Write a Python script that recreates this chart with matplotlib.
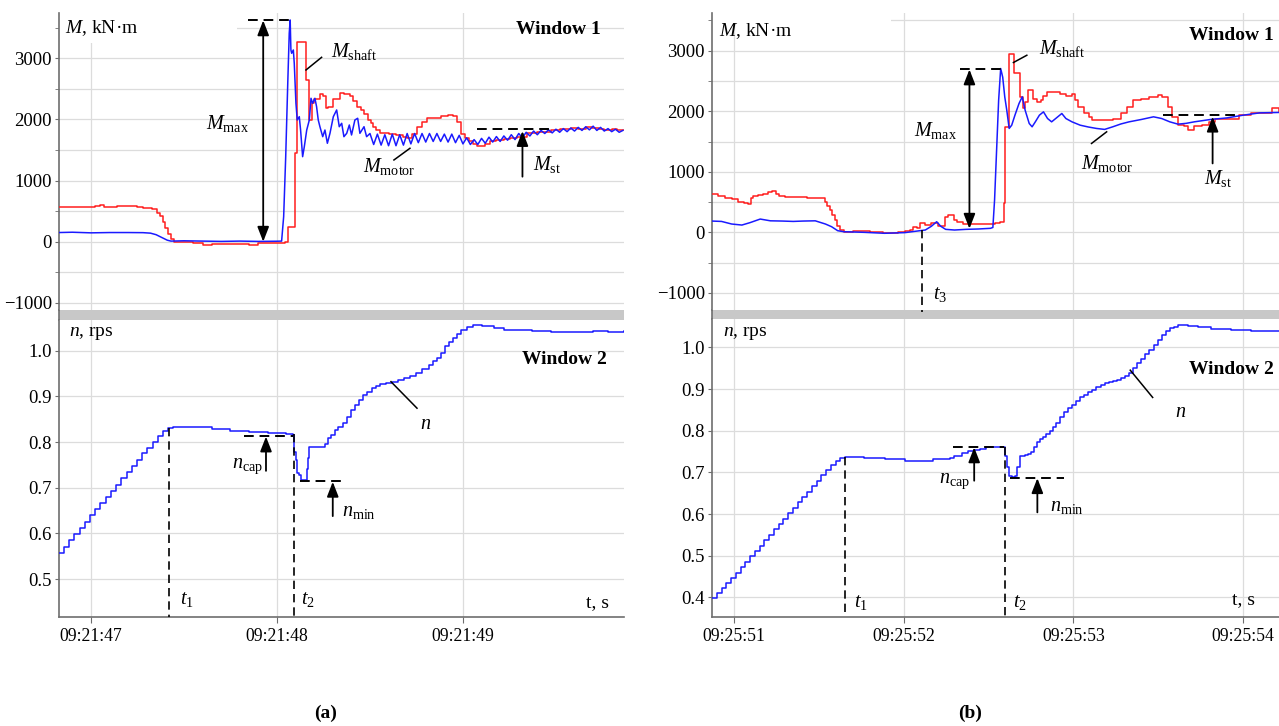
import matplotlib
matplotlib.use("Agg")
import matplotlib.pyplot as plt
from matplotlib.patches import Rectangle

plt.rcParams['font.family'] = ['Liberation Serif', 'DejaVu Serif']
plt.rcParams['mathtext.fontset'] = 'custom'
plt.rcParams['mathtext.rm'] = 'Liberation Serif'
plt.rcParams['mathtext.it'] = 'Liberation Serif:italic'
plt.rcParams['mathtext.bf'] = 'Liberation Serif:bold'

# ---- panel (a): seconds after 09:21:47 ----
a_ticks = [0, 1, 2]
a_ticklabels = ['09:21:47', '09:21:48', '09:21:49']

a_t_shaft = [-0.172, -0.05, 0.02, 0.05, 0.07, 0.12, 0.14, 0.20, 0.25, 0.28,
             0.33, 0.355, 0.37, 0.385, 0.40, 0.415, 0.43, 0.445, 0.55, 0.60,
             0.65, 0.70, 0.78, 0.85, 0.90, 0.97, 1.045, 1.060, 1.098, 1.108,
             1.154, 1.174, 1.186, 1.20, 1.231, 1.250, 1.266, 1.276, 1.30, 1.339,
             1.36, 1.392, 1.41, 1.428, 1.45, 1.47, 1.491, 1.505, 1.518, 1.535,
             1.554, 1.60, 1.64, 1.679, 1.70, 1.727, 1.751, 1.78, 1.805, 1.84,
             1.88, 1.92, 1.946, 1.968, 1.99, 2.01, 2.035, 2.056, 2.075, 2.10,
             2.12, 2.144, 2.18, 2.22, 2.254, 2.29, 2.342, 2.40, 2.473, 2.52,
             2.583, 2.62, 2.66, 2.693, 2.73, 2.758, 2.80, 2.83, 2.866]
a_m_shaft = [570, 565, 580, 600, 575, 560, 585, 580, 570, 550,
             540, 470, 420, 330, 220, 130, 40, 0, -20, -50,
             -30, -45, -30, -50, -25, -15, 0, 245, 1450, 3274,
             2647, 1990, 2270, 2330, 2420, 2380, 2190, 2200, 2330, 2440,
             2420, 2390, 2300, 2210, 2150, 2090, 1990, 1940, 1880, 1830,
             1780, 1760, 1740, 1720, 1700, 1760, 1880, 1950, 2020, 2020,
             2050, 2070, 2050, 1960, 1760, 1700, 1650, 1600, 1560, 1560,
             1600, 1640, 1660, 1680, 1700, 1720, 1780, 1800, 1830, 1840,
             1860, 1850, 1870, 1865, 1850, 1830, 1845, 1820, 1835]

a_t_motor = [-0.172, -0.10, 0.0, 0.10, 0.20, 0.28, 0.32, 0.35, 0.38, 0.41,
             0.43, 0.50, 0.60, 0.70, 0.80, 0.90, 1.00, 1.025, 1.036, 1.047,
             1.058, 1.066, 1.071, 1.075, 1.079, 1.088, 1.093, 1.102, 1.109, 1.120,
             1.127, 1.138, 1.147, 1.160, 1.174, 1.183, 1.192, 1.204, 1.213, 1.222,
             1.231, 1.246, 1.258, 1.271, 1.285, 1.303, 1.321, 1.335, 1.348, 1.360,
             1.375, 1.389, 1.401, 1.419, 1.434, 1.446, 1.468, 1.482,
             1.50, 1.52, 1.54, 1.56, 1.58, 1.60, 1.62, 1.64, 1.66, 1.68,
             1.70, 1.72, 1.74, 1.76, 1.78, 1.80, 1.82, 1.84, 1.86, 1.88,
             1.90, 1.92, 1.94, 1.96, 1.98, 2.00, 2.02, 2.04, 2.06, 2.08,
             2.10, 2.12, 2.14, 2.16, 2.18, 2.20, 2.22, 2.24, 2.26, 2.28,
             2.30, 2.32, 2.34, 2.36, 2.38, 2.40, 2.42, 2.44, 2.46, 2.48,
             2.50, 2.52, 2.54, 2.56, 2.58, 2.60, 2.62, 2.64, 2.66, 2.68,
             2.70, 2.72, 2.74, 2.76, 2.78, 2.80, 2.82, 2.84, 2.86]
a_m_motor = [150, 155, 145, 150, 150, 148, 140, 115, 70, 25,
             10, 15, 10, 5, 10, 5, 8, 10, 410, 1390,
             2590, 3410, 3627, 3136, 3082, 3136, 2919, 2264, 1991, 2045,
             1827, 1391, 1554, 1827, 1991, 2346, 2264, 2346, 2209, 1991,
             1881, 1718, 1827, 1610, 1773, 2045, 2155, 1881, 1937, 1718,
             1773, 1909, 1746, 1991, 2019, 1773, 1881, 1718,
             1770, 1590, 1760, 1580, 1750, 1570, 1760, 1570, 1750, 1580,
             1770, 1600, 1770, 1620, 1770, 1630, 1770, 1640, 1770, 1640,
             1760, 1630, 1760, 1620, 1740, 1600, 1700, 1590, 1670, 1590,
             1690, 1610, 1710, 1630, 1720, 1640, 1730, 1660, 1750, 1670,
             1770, 1700, 1790, 1730, 1810, 1750, 1820, 1770, 1830, 1780,
             1840, 1790, 1850, 1800, 1860, 1810, 1870, 1820, 1880, 1830,
             1890, 1820, 1870, 1810, 1850, 1800, 1840, 1790, 1820]

a_t_n = [-0.172, -0.145, -0.117, -0.089, -0.061, -0.033, -0.005, 0.023, 0.051, 0.079,
         0.107, 0.135, 0.163, 0.191, 0.219, 0.247, 0.275, 0.303, 0.331, 0.359,
         0.387, 0.415, 0.44, 0.55, 0.65, 0.75, 0.85, 0.95, 1.05, 1.086,
         1.091, 1.100, 1.108, 1.12, 1.130, 1.152, 1.161, 1.168, 1.174, 1.21,
         1.244, 1.26, 1.277, 1.29, 1.31, 1.33, 1.354, 1.375, 1.398, 1.42,
         1.442, 1.465, 1.486, 1.51, 1.53, 1.556, 1.584, 1.617, 1.65, 1.683,
         1.716, 1.749, 1.78, 1.815, 1.84, 1.859, 1.88, 1.903, 1.925, 1.947,
         1.97, 1.99, 2.02, 2.056, 2.10, 2.166, 2.22, 2.276, 2.37, 2.473,
         2.6, 2.7, 2.78, 2.866]
a_n = [0.558, 0.571, 0.585, 0.599, 0.612, 0.626, 0.640, 0.653, 0.667, 0.680,
       0.694, 0.707, 0.721, 0.734, 0.748, 0.761, 0.775, 0.788, 0.801, 0.813,
       0.824, 0.830, 0.833, 0.832, 0.829, 0.825, 0.821, 0.819, 0.817, 0.815,
       0.779, 0.760, 0.732, 0.728, 0.716, 0.718, 0.740, 0.765, 0.789, 0.790,
       0.789, 0.795, 0.808, 0.815, 0.826, 0.833, 0.841, 0.855, 0.870, 0.882,
       0.892, 0.902, 0.910, 0.918, 0.923, 0.927, 0.929, 0.932, 0.936, 0.940,
       0.945, 0.951, 0.960, 0.969, 0.977, 0.983, 0.995, 1.009, 1.018, 1.027,
       1.037, 1.045, 1.052, 1.055, 1.054, 1.050, 1.046, 1.044, 1.043, 1.041,
       1.041, 1.042, 1.041, 1.042]

# ---- panel (b): seconds after 09:25:51 ----
b_ticks = [0, 1, 2, 3]
b_ticklabels = ['09:25:51', '09:25:52', '09:25:53', '09:25:54']

b_t_shaft = [-0.128, -0.09, -0.05, -0.012, 0.024, 0.06, 0.084, 0.100, 0.115, 0.14,
             0.17, 0.20, 0.228, 0.25, 0.264, 0.30, 0.336, 0.37, 0.408, 0.43,
             0.456, 0.49, 0.516, 0.54, 0.552, 0.564, 0.58, 0.595, 0.61, 0.624,
             0.648, 0.70, 0.744, 0.80, 0.84, 0.88, 0.936, 0.97, 1.008, 1.04,
             1.058, 1.08, 1.097, 1.128, 1.164, 1.2, 1.244, 1.264, 1.296, 1.313,
             1.352, 1.44, 1.49, 1.539, 1.568, 1.592, 1.598, 1.621, 1.653, 1.686,
             1.702, 1.716, 1.735, 1.75, 1.764, 1.784, 1.81, 1.823, 1.843, 1.872,
             1.92, 1.956, 1.992, 2.011, 2.028, 2.064, 2.09, 2.112, 2.184, 2.232,
             2.28, 2.316, 2.352, 2.40, 2.448, 2.496, 2.52, 2.556, 2.58, 2.616,
             2.652, 2.676, 2.712, 2.76, 2.796, 2.832, 2.904, 2.976, 3.048, 3.12,
             3.168, 3.211]
b_m_shaft = [627, 600, 575, 555, 505, 480, 470, 560, 600, 620,
             640, 660, 676, 640, 600, 585, 590, 580, 585, 575,
             570, 565, 560, 505, 440, 368, 280, 203, 110, 38,
             10, 20, 15, 0, 5, -10, -15, 0, 20, 40,
             92, 66, 148, 120, 148, 104, 257, 285, 200, 165,
             132, 132, 132, 158, 165, 478, 1742, 2953, 2634, 2237,
             2046, 2160, 2348, 2350, 2210, 2155, 2180, 2260, 2320, 2310,
             2290, 2260, 2290, 2183, 2073, 1963, 1900, 1853, 1853, 1870,
             1963, 2073, 2183, 2210, 2240, 2265, 2230, 2073, 1908, 1770,
             1760, 1688, 1753, 1770, 1825, 1870, 1875, 1935, 1963, 1973,
             2046, 1990]

b_t_motor = [-0.128, -0.072, -0.012, 0.048, 0.096, 0.156, 0.216, 0.288, 0.35, 0.408,
             0.48, 0.54, 0.576, 0.612, 0.648, 0.768, 0.888, 1.008, 1.128, 1.164,
             1.195, 1.219, 1.248, 1.30, 1.368, 1.44, 1.512, 1.526, 1.536, 1.548,
             1.560, 1.572, 1.584, 1.596, 1.608, 1.622, 1.637, 1.656, 1.680, 1.699,
             1.716, 1.740, 1.757, 1.776, 1.800, 1.824, 1.848, 1.872, 1.896, 1.932,
             1.956, 1.992, 2.04, 2.088, 2.136, 2.184, 2.232, 2.28, 2.328, 2.40,
             2.472, 2.52, 2.568, 2.616, 2.664, 2.712, 2.808, 2.904, 3.0, 3.096,
             3.211]
b_m_motor = [186, 180, 137, 120, 160, 219, 190, 186, 180, 186,
             190, 137, 93, 27, 10, 0, -16, -5, 38, 100,
             175, 100, 49, 38, 49, 55, 66, 80, 533, 1358,
             2183, 2706, 2562, 2238, 2016, 1716, 1770, 1935, 2128, 2238,
             2018, 1798, 1743, 1825, 1935, 1990, 1880, 1825, 1880, 1963,
             1880, 1825, 1770, 1740, 1716, 1700, 1743, 1790, 1825, 1864,
             1908, 1880, 1825, 1787, 1800, 1825, 1864, 1890, 1935, 1973,
             1980]

b_t_n = [-0.128, -0.100, -0.072, -0.044, -0.016, 0.012, 0.040, 0.068, 0.096, 0.124,
         0.152, 0.180, 0.208, 0.236, 0.264, 0.292, 0.320, 0.348, 0.376, 0.404,
         0.432, 0.460, 0.488, 0.516, 0.544, 0.572, 0.600, 0.628, 0.653,
         0.70, 0.768, 0.888, 1.008, 1.08, 1.13, 1.176, 1.22, 1.272, 1.30,
         1.345, 1.38, 1.416, 1.45, 1.488, 1.53, 1.560, 1.591, 1.596, 1.608,
         1.620, 1.637, 1.656, 1.668, 1.685, 1.716, 1.735, 1.752, 1.77, 1.788,
         1.805, 1.824, 1.84, 1.86, 1.878, 1.896, 1.92, 1.944, 1.968, 1.992,
         2.016, 2.04, 2.064, 2.088, 2.112, 2.136, 2.16, 2.184, 2.208, 2.232,
         2.256, 2.28, 2.304, 2.328, 2.352, 2.376, 2.40, 2.424, 2.448, 2.472,
         2.496, 2.52, 2.544, 2.568, 2.592, 2.616, 2.646, 2.676, 2.736, 2.808,
         2.928, 3.048, 3.13, 3.211]
b_n = [0.398, 0.410, 0.422, 0.434, 0.446, 0.459, 0.472, 0.485, 0.498, 0.511,
       0.524, 0.537, 0.550, 0.563, 0.576, 0.589, 0.602, 0.615, 0.628, 0.641,
       0.654, 0.667, 0.680, 0.693, 0.706, 0.718, 0.728, 0.735, 0.738,
       0.737, 0.735, 0.731, 0.728, 0.727, 0.728, 0.731, 0.733, 0.735, 0.740,
       0.747, 0.751, 0.754, 0.757, 0.760, 0.761, 0.762, 0.762, 0.740, 0.713,
       0.692, 0.690, 0.692, 0.713, 0.739, 0.742, 0.745, 0.750, 0.762, 0.773,
       0.779, 0.785, 0.792, 0.800, 0.809, 0.818, 0.832, 0.845, 0.854, 0.862,
       0.872, 0.881, 0.887, 0.893, 0.899, 0.904, 0.909, 0.914, 0.917, 0.920,
       0.923, 0.926, 0.931, 0.938, 0.950, 0.962, 0.973, 0.984, 0.995, 1.006,
       1.018, 1.030, 1.039, 1.046, 1.050, 1.053, 1.053, 1.052, 1.049, 1.044,
       1.042, 1.040, 1.040, 1.039]

M_ticks = [-1000, 0, 1000, 2000, 3000]
M_minor = [-500, 500, 1500, 2500, 3500]
a_n_ticks = [0.5, 0.6, 0.7, 0.8, 0.9, 1.0]
b_n_ticks = [0.4, 0.5, 0.6, 0.7, 0.8, 0.9, 1.0]

RED = '#ff1e1e'
BLUE = '#1a1aff'
SPINE = '#6e6e6e'
GRID = '#dcdcdc'
W, H = 1279.0, 726.0

fig = plt.figure(figsize=(12.79, 7.26), dpi=100)


def box(x0, x1, y0, y1):
    # pixel box -> figure fractions
    return [x0 / W, 1 - y1 / H, (x1 - x0) / W, (y1 - y0) / H]


def style(ax, xticks, xlabels, bottom):
    for s in ['top', 'right']:
        ax.spines[s].set_visible(False)
    ax.spines['left'].set_color(SPINE)
    ax.spines['left'].set_linewidth(1.2)
    ax.spines['bottom'].set_visible(bottom)
    ax.spines['bottom'].set_color(SPINE)
    ax.spines['bottom'].set_linewidth(1.2)
    ax.set_xticks(xticks)
    ax.grid(True, which='both', color=GRID, lw=0.9)
    ax.set_axisbelow(True)
    ax.tick_params(axis='y', which='both', direction='out', length=3,
                   color=SPINE, labelsize=13.5, pad=2)
    if bottom:
        ax.set_xticklabels(xlabels)
        ax.tick_params(axis='x', length=4, color=SPINE, labelsize=12.7, pad=4)
    else:
        ax.tick_params(axis='x', length=0, labelbottom=False)


def dashed(ax, xs, ys, lw=1.4):
    ax.plot(xs, ys, color='k', lw=lw, ls=(0, (5, 3)), zorder=6, clip_on=False)


def arrow(ax, x, y0, y1, both=False):
    st = '<|-|>' if both else '-|>'
    ax.annotate('', xy=(x, y1), xytext=(x, y0), zorder=7,
                arrowprops=dict(arrowstyle=st + ',head_length=0.9,head_width=0.35',
                                color='k', lw=1.3, shrinkA=0, shrinkB=0,
                                mutation_scale=10))


def lead(ax, xs, ys):
    ax.plot(xs, ys, color='k', lw=1.1, zorder=7)


def label(ax, x, y, s, ha='left', size=14.5):
    ax.text(x, y, s, fontsize=size, ha=ha, va='center', zorder=8)


def panel(x0, x1, bar_top, bar_bot, xlim, mlim, nlim, ticks, ticklabels,
          t_sh, m_sh, t_mo, m_mo, t_n, n, n_ticks, white_y):
    gray = fig.add_axes(box(x0, x1, bar_top, bar_bot))
    gray.set_facecolor('#c8c8c8')
    gray.set_xticks([])
    gray.set_yticks([])
    for s in ['top', 'right', 'bottom']:
        gray.spines[s].set_visible(False)
    gray.spines['left'].set_color(SPINE)
    gray.spines['left'].set_linewidth(1.2)

    ax1 = fig.add_axes(box(x0, x1, 13, bar_top))
    ax2 = fig.add_axes(box(x0, x1, bar_bot, 616.7))
    style(ax1, ticks, ticklabels, False)
    style(ax2, ticks, ticklabels, True)

    ax1.set_xlim(*xlim)
    ax1.set_ylim(*mlim)
    ax1.set_yticks(M_ticks)
    ax1.set_yticks(M_minor, minor=True)
    ax1.add_patch(Rectangle((0, white_y), 0.315, 1 - white_y, transform=ax1.transAxes,
                            facecolor='white', edgecolor='none', zorder=1.5))
    ax1.plot(t_sh, m_sh, color=RED, lw=1.1, drawstyle='steps-post', zorder=3)
    ax1.plot(t_mo, m_mo, color=BLUE, lw=1.1, zorder=4)

    ax2.set_xlim(*xlim)
    ax2.set_ylim(*nlim)
    ax2.set_yticks(n_ticks)
    ax2.set_yticklabels(['%.1f' % v for v in n_ticks])
    ax2.plot(t_n, n, color=BLUE, lw=1.1, drawstyle='steps-post', zorder=4)
    return ax1, ax2


# ---------------- panel (a) ----------------
a1, a2 = panel(59, 624, 310, 319.5, (-0.172, 2.866), (-1117, 3741), (0.418, 1.068),
               a_ticks, a_ticklabels, a_t_shaft, a_m_shaft, a_t_motor, a_m_motor,
               a_t_n, a_n, a_n_ticks, 0.9)

a1.text(0.011, 0.95, '$M$, kN·m', transform=a1.transAxes, fontsize=14,
        ha='left', va='center', zorder=8)
a1.text(0.959, 0.943, 'Window 1', transform=a1.transAxes, fontsize=14,
        fontweight='bold', ha='right', va='center', zorder=8)
dashed(a1, [0.844, 1.073], [3620, 3620])
arrow(a1, 0.926, 0, 3620, both=True)
label(a1, 0.849, 1940, r'$M_{\mathrm{max}}$', ha='right')
lead(a1, [1.240, 1.156], [3016, 2809])
label(a1, 1.289, 3108, r'$M_{\mathrm{shaft}}$')
lead(a1, [1.629, 1.715], [1337, 1528])
label(a1, 1.464, 1227, r'$M_{\mathrm{motor}}$')
dashed(a1, [2.078, 2.462], [1840, 1840])
arrow(a1, 2.32, 1064, 1810)
label(a1, 2.375, 1255, r'$M_{\mathrm{st}}$')

a2.text(0.017, 0.954, '$n$, rps', transform=a2.transAxes, fontsize=14,
        ha='left', va='center', zorder=8)
a2.text(0.970, 0.864, 'Window 2', transform=a2.transAxes, fontsize=14,
        fontweight='bold', ha='right', va='center', zorder=8)
a2.text(0.973, 0.046, 't, s', transform=a2.transAxes, fontsize=14,
        ha='right', va='center', zorder=8)
dashed(a2, [0.421, 0.421], [0.831, 0.418], lw=1.2)
dashed(a2, [1.091, 1.091], [0.817, 0.418], lw=1.2)
label(a2, 0.476, 0.455, '$t_1$')
label(a2, 1.128, 0.455, '$t_2$')
dashed(a2, [0.821, 1.086], [0.813, 0.813])
arrow(a2, 0.941, 0.737, 0.812)
label(a2, 0.925, 0.746, r'$n_{\mathrm{cap}}$', ha='right')
dashed(a2, [1.124, 1.36], [0.714, 0.714])
arrow(a2, 1.30, 0.638, 0.713)
label(a2, 1.35, 0.648, r'$n_{\mathrm{min}}$')
lead(a2, [1.613, 1.753], [0.932, 0.874])
label(a2, 1.771, 0.8375, '$n$')

# ---------------- panel (b) ----------------
b1, b2 = panel(712, 1279, 309.5, 318.5, (-0.128, 3.211), (-1275, 3623), (0.3534, 1.0696),
               b_ticks, b_ticklabels, b_t_shaft, b_m_shaft, b_t_motor, b_m_motor,
               b_t_n, b_n, b_n_ticks, 0.96)

b1.text(0.013, 0.94, '$M$, kN·m', transform=b1.transAxes, fontsize=14,
        ha='left', va='center', zorder=8)
b1.text(0.991, 0.923, 'Window 1', transform=b1.transAxes, fontsize=14,
        fontweight='bold', ha='right', va='center', zorder=8)
dashed(b1, [1.333, 1.578], [2690, 2690])
arrow(b1, 1.388, 60, 2690, both=True)
label(b1, 1.313, 1690, r'$M_{\mathrm{max}}$', ha='right')
lead(b1, [1.726, 1.647], [2925, 2805])
label(b1, 1.80, 3030, r'$M_{\mathrm{shaft}}$')
lead(b1, [2.107, 2.196], [1468, 1660])
label(b1, 2.045, 1138, r'$M_{\mathrm{motor}}$')
dashed(b1, [2.527, 2.952], [1935, 1935])
arrow(b1, 2.82, 1138, 1910)
label(b1, 2.767, 890, r'$M_{\mathrm{st}}$')
dashed(b1, [1.111, 1.111], [38, -1315], lw=1.2)
label(b1, 1.176, -1035, '$t_3$')

b2.text(0.02, 0.95, '$n$, rps', transform=b2.transAxes, fontsize=14,
        ha='left', va='center', zorder=8)
b2.text(0.991, 0.83, 'Window 2', transform=b2.transAxes, fontsize=14,
        fontweight='bold', ha='right', va='center', zorder=8)
b2.text(0.958, 0.056, 't, s', transform=b2.transAxes, fontsize=14,
        ha='right', va='center', zorder=8)
dashed(b2, [0.653, 0.653], [0.738, 0.3534], lw=1.2)
dashed(b2, [1.596, 1.596], [0.762, 0.3534], lw=1.2)
label(b2, 0.708, 0.387, '$t_1$')
label(b2, 1.644, 0.387, '$t_2$')
dashed(b2, [1.291, 1.591], [0.7615, 0.7615])
arrow(b2, 1.416, 0.68, 0.760)
label(b2, 1.391, 0.679, r'$n_{\mathrm{cap}}$', ha='right')
dashed(b2, [1.627, 1.944], [0.687, 0.687])
arrow(b2, 1.788, 0.604, 0.686)
label(b2, 1.86, 0.619, r'$n_{\mathrm{min}}$')
lead(b2, [2.335, 2.467], [0.9455, 0.880])
label(b2, 2.597, 0.845, '$n$')

fig.text(326 / W, 1 - 713 / H, '(a)', fontsize=14, fontweight='bold', ha='center', va='center')
fig.text(970 / W, 1 - 713 / H, '(b)', fontsize=14, fontweight='bold', ha='center', va='center')

fig.savefig('out.png', dpi=100)
